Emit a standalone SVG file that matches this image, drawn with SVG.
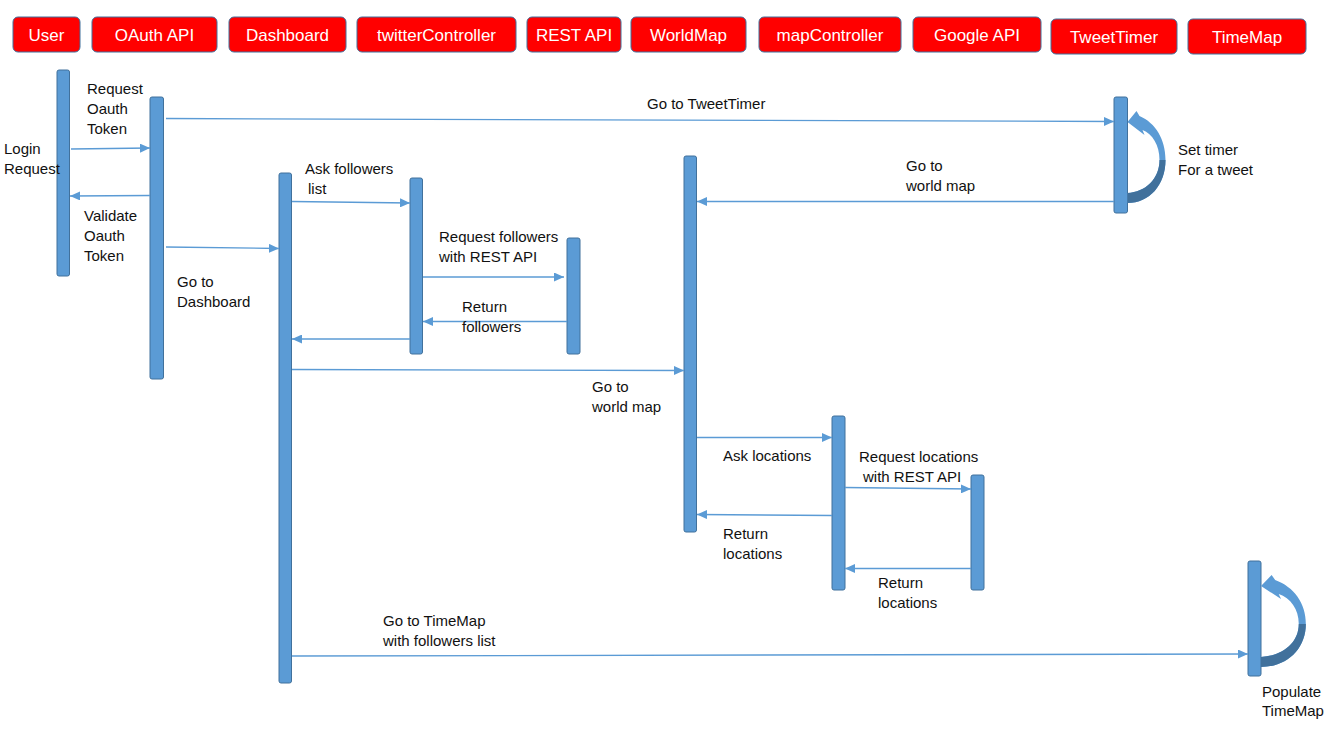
<svg xmlns="http://www.w3.org/2000/svg" width="1330" height="735" viewBox="0 0 1330 735">
<style>
.hdr rect{fill:#ff0000;stroke:#41719c;stroke-width:1}
.hdr text{fill:#ffffff;font-family:"Liberation Sans",Arial,sans-serif;font-size:17px;text-anchor:middle}
.bar{fill:#5b9bd5;stroke:#41719c;stroke-width:1}
.lbl{fill:#111111;font-family:"Liberation Sans",Arial,sans-serif;font-size:15px}
.msg{stroke:#5b9bd5;stroke-width:1.3;fill:none;marker-end:url(#ah)}
</style>
<defs>
<marker id="ah" markerUnits="userSpaceOnUse" markerWidth="10" markerHeight="9" refX="10" refY="4.5" orient="auto">
<path d="M0,0 L10,4.5 L0,9 Z" fill="#5b9bd5"/>
</marker>
<g id="loop">
<path d="M0,25 L9,14 L12,19 C28,26 38,42 38,63 C38,88 22,106 0,106 L0,96 C18,95 32,82 32,63 C32,48 25,37 15,33 L17,38 Z" fill="#5b9bd5"/>
<path d="M38,63 C38,88 22,106 0,106 L0,96 C18,95 32,82 32,63 Z" fill="#41719c"/>
</g>
</defs>
<rect width="1330" height="735" fill="#ffffff"/>

<g id="hdr-user" class="hdr"><rect x="13" y="17" width="67" height="35" rx="5"/><text x="46.5" y="40.5">User</text></g>
<g id="hdr-oauth" class="hdr"><rect x="92" y="17" width="125" height="35" rx="5"/><text x="154.5" y="40.5">OAuth API</text></g>
<g id="hdr-dashboard" class="hdr"><rect x="229" y="17" width="117" height="35" rx="5"/><text x="287.5" y="40.5">Dashboard</text></g>
<g id="hdr-twitterController" class="hdr"><rect x="357" y="17" width="159" height="35" rx="5"/><text x="436.5" y="40.5">twitterController</text></g>
<g id="hdr-restapi" class="hdr"><rect x="527" y="17" width="94" height="35" rx="5"/><text x="574" y="40.5">REST API</text></g>
<g id="hdr-worldmap" class="hdr"><rect x="631" y="17" width="115" height="35" rx="5"/><text x="688.5" y="40.5">WorldMap</text></g>
<g id="hdr-mapController" class="hdr"><rect x="759" y="17" width="142" height="35" rx="5"/><text x="830" y="40.5">mapController</text></g>
<g id="hdr-googleapi" class="hdr"><rect x="913" y="17" width="128" height="35" rx="5"/><text x="977" y="40.5">Google API</text></g>
<g id="hdr-tweettimer" class="hdr"><rect x="1051" y="19" width="126" height="35" rx="5"/><text x="1114" y="42.5">TweetTimer</text></g>
<g id="hdr-timemap" class="hdr"><rect x="1188" y="19" width="118" height="35" rx="5"/><text x="1247" y="42.5">TimeMap</text></g>

<g id="act-user"><rect class="bar" x="57" y="70" width="12.5" height="206" rx="2"/></g>
<g id="act-oauth"><rect class="bar" x="150" y="97" width="13.5" height="282" rx="2"/></g>
<g id="act-dashboard"><rect class="bar" x="279" y="173" width="12.5" height="510" rx="2"/></g>
<g id="act-twitterController"><rect class="bar" x="410" y="178" width="12.5" height="176" rx="2"/></g>
<g id="act-restapi"><rect class="bar" x="567" y="238" width="13" height="116" rx="2"/></g>
<g id="act-worldmap"><rect class="bar" x="684" y="156" width="12.5" height="376" rx="2"/></g>
<g id="act-mapController"><rect class="bar" x="832" y="416" width="13" height="174" rx="2"/></g>
<g id="act-googleapi"><rect class="bar" x="971" y="475" width="13" height="115" rx="2"/></g>
<g id="act-tweettimer"><rect class="bar" x="1114" y="97" width="13.5" height="116" rx="2"/><use href="#loop" transform="translate(1127.5,97)"/></g>
<g id="act-timemap"><rect class="bar" x="1248" y="561" width="13" height="115" rx="2"/><use href="#loop" transform="translate(1261,561) scale(1.18,1)"/></g>

<g id="connectors">
<line class="msg" x1="71" y1="149" x2="150" y2="148"/>
<line class="msg" x1="150" y1="195.5" x2="70" y2="196"/>
<line class="msg" x1="166" y1="118.5" x2="1114" y2="121.5"/>
<line class="msg" x1="166" y1="247" x2="279" y2="248.5"/>
<line class="msg" x1="292" y1="201.5" x2="410" y2="203"/>
<line class="msg" x1="423" y1="277" x2="564" y2="277"/>
<line class="msg" x1="567" y1="321.5" x2="423" y2="321.5"/>
<line class="msg" x1="410" y1="339" x2="292" y2="339"/>
<line class="msg" x1="292" y1="369.5" x2="684" y2="370.5"/>
<line class="msg" x1="1114" y1="201.5" x2="697" y2="201.5"/>
<line class="msg" x1="697" y1="437.5" x2="832" y2="437.5"/>
<line class="msg" x1="845" y1="487.5" x2="971" y2="489"/>
<line class="msg" x1="832" y1="515.5" x2="697" y2="514.5"/>
<line class="msg" x1="971" y1="568.5" x2="845" y2="568.5"/>
<line class="msg" x1="292" y1="656" x2="1248" y2="654"/>
</g>

<g id="labels" class="lbl">
<text x="87" y="94">Request</text>
<text x="87" y="114">Oauth</text>
<text x="87" y="134">Token</text>
<text x="4" y="154">Login</text>
<text x="4" y="174">Request</text>
<text x="84" y="221">Validate</text>
<text x="84" y="241">Oauth</text>
<text x="84" y="261">Token</text>
<text x="177" y="287">Go to</text>
<text x="177" y="307">Dashboard</text>
<text x="647" y="109">Go to TweetTimer</text>
<text x="305" y="174">Ask followers</text>
<text x="308" y="194">list</text>
<text x="439" y="242">Request followers</text>
<text x="439" y="262">with REST API</text>
<text x="462" y="312">Return</text>
<text x="462" y="332">followers</text>
<text x="592" y="392">Go to</text>
<text x="592" y="412">world map</text>
<text x="906" y="171">Go to</text>
<text x="906" y="191">world map</text>
<text x="1178" y="155">Set timer</text>
<text x="1178" y="175">For a tweet</text>
<text x="723" y="461">Ask locations</text>
<text x="859" y="462">Request locations</text>
<text x="863" y="482">with REST API</text>
<text x="723" y="539">Return</text>
<text x="723" y="559">locations</text>
<text x="878" y="588">Return</text>
<text x="878" y="608">locations</text>
<text x="383" y="626">Go to TimeMap</text>
<text x="383" y="646">with followers list</text>
<text x="1262" y="697">Populate</text>
<text x="1262" y="716">TimeMap</text>
</g>
</svg>
